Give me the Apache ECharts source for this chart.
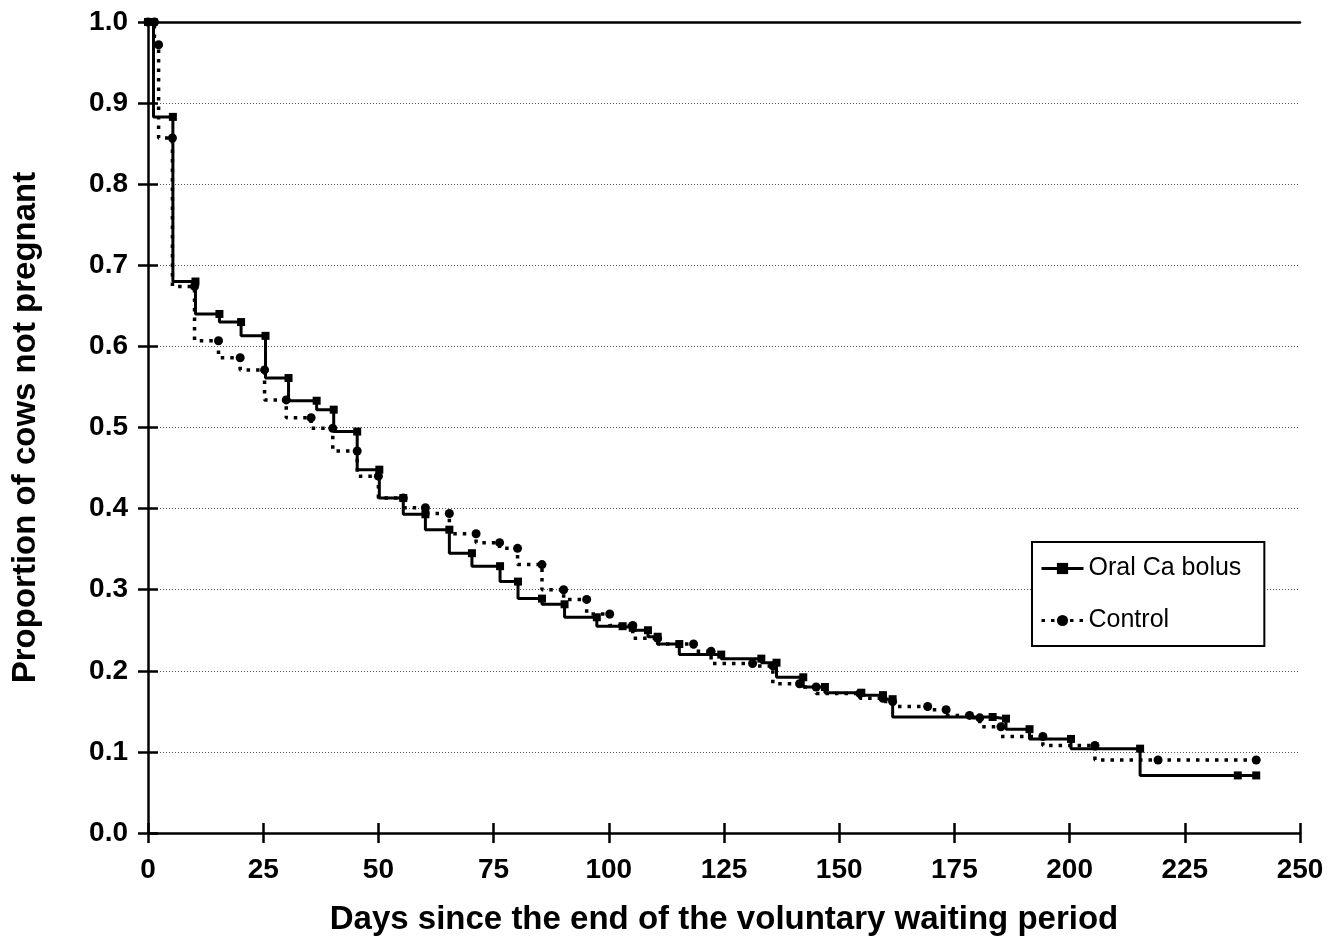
<!DOCTYPE html>
<html>
<head>
<meta charset="utf-8">
<script src="https://cdn.jsdelivr.net/npm/echarts@6/dist/echarts.min.js"></script>
<style>
  html, body { margin: 0; padding: 0; background: #fff; }
  #chart { width: 1344px; height: 943px; }
</style>
</head>
<body>
<div id="chart"></div>
<script>
// day of each event and proportion left after it (first entry = start)
var bolusDays = [0, 1.2, 5.4, 10.3, 15.5, 20.2, 25.5, 30.5, 36.6, 40.3, 45.4, 50.2, 55.4, 60.2, 65.4, 70.3, 76.4, 80.3, 85.5, 90.4,
  97.4, 103, 105.2, 108.5, 110.6, 115.3, 124.4, 133.1, 136.4, 142.2, 146.9, 154.8, 159.5, 161.6, 183.3, 186.2, 191.3, 200.3, 215.3, 236.5, 240.5];
var bolusProp = [1.0, 0.883, 0.680, 0.640, 0.630, 0.613, 0.561, 0.533, 0.522, 0.495, 0.448, 0.413, 0.393, 0.374, 0.345, 0.329, 0.310, 0.289, 0.282, 0.266,
  0.255, 0.253, 0.250, 0.242, 0.233, 0.220, 0.215, 0.210, 0.192, 0.180, 0.173, 0.170, 0.165, 0.143, 0.141, 0.128, 0.116, 0.104, 0.071, 0.071, 0.071];

var controlDays = [0, 1.4, 2.3, 5.3, 10.1, 15.3, 20, 25.3, 30, 35.4, 40.1, 45.4, 50, 55.4, 60.2, 65.4, 71.2, 76.3, 80.2, 85.5,
  90.2, 95.2, 100.2, 105.2, 110.6, 118.4, 122.2, 131.2, 135.6, 141.4, 145, 154.5, 159.5, 161.6, 169.2, 173.2, 178.3, 180.5, 185.1, 194.2,
  205.5, 219.2, 240.5];
var controlProp = [1.0, 0.972, 0.857, 0.674, 0.607, 0.586, 0.571, 0.534, 0.512, 0.499, 0.471, 0.440, 0.413, 0.401, 0.394, 0.369, 0.358, 0.351, 0.331, 0.300,
  0.288, 0.270, 0.256, 0.240, 0.233, 0.224, 0.209, 0.206, 0.184, 0.180, 0.172, 0.166, 0.162, 0.156, 0.152, 0.145, 0.142, 0.131, 0.119, 0.108,
  0.090, 0.090, 0.090];

var seriesNames = ['Oral Ca bolus', 'Control'];

var FONT = '"Liberation Sans", Arial, sans-serif';

// step curve: marker on top of each drop, plain corner at the bottom
function kmPoints(days, prop) {
  var pts = [{ value: [days[0], prop[0]] }];
  for (var i = 1; i < days.length; i++) {
    pts.push({ value: [days[i], prop[i - 1]] });
    if (prop[i] !== prop[i - 1]) {
      pts.push({ value: [days[i], prop[i]], symbol: 'none' });
    }
  }
  return pts;
}

var chart = echarts.init(document.getElementById('chart'));

var xBase = { type: 'value', min: 0, max: 250, interval: 25, gridIndex: 0 };
var yBase = { type: 'value', min: 0, max: 1, interval: 0.1, gridIndex: 0 };

chart.setOption({
  animation: false,
  backgroundColor: '#fff',
  grid: { left: 148, right: 44, top: 22, bottom: 110 },
  legend: {
    orient: 'vertical',
    left: 1032,
    top: 542,
    data: seriesNames,
    backgroundColor: '#fff',
    borderColor: '#000',
    borderWidth: 2,
    borderRadius: 0,
    padding: [14, 23, 13, 8],
    itemGap: 27,
    itemWidth: 42,
    itemHeight: 14,
    lineStyle: { width: 3 },
    textStyle: { fontFamily: FONT, fontSize: 25, color: '#000', lineHeight: 25 }
  },
  xAxis: [
    Object.assign({}, xBase, {
      position: 'bottom',
      name: 'Days since the end of the voluntary waiting period',
      nameLocation: 'middle',
      nameGap: 70,
      nameTextStyle: { fontFamily: FONT, fontSize: 33, fontWeight: 'bold', color: '#000' },
      axisLine: { show: true, lineStyle: { color: '#000', width: 2.5 } },
      axisTick: { show: true, inside: false, length: 10, lineStyle: { color: '#000', width: 2.5 } },
      axisLabel: { margin: 23, fontFamily: FONT, fontSize: 28, fontWeight: 'bold', color: '#000' },
      splitLine: { show: false }
    }),
    Object.assign({}, xBase, {
      position: 'bottom',
      axisLine: { show: false },
      axisTick: { show: true, inside: true, length: 10, lineStyle: { color: '#000', width: 2.5 } },
      axisLabel: { show: false },
      splitLine: { show: false }
    }),
    Object.assign({}, xBase, {
      position: 'top',
      axisLine: { show: true, lineStyle: { color: '#000', width: 2.5 } },
      axisTick: { show: false },
      axisLabel: { show: false },
      splitLine: { show: false }
    })
  ],
  yAxis: [
    Object.assign({}, yBase, {
      position: 'left',
      name: 'Proportion of cows not pregnant',
      nameLocation: 'middle',
      nameGap: 106,
      nameTextStyle: { fontFamily: FONT, fontSize: 33, fontWeight: 'bold', color: '#000' },
      axisLine: { show: true, lineStyle: { color: '#000', width: 2.5 } },
      axisTick: { show: true, inside: false, length: 10, lineStyle: { color: '#000', width: 2.5 } },
      axisLabel: {
        margin: 20, fontFamily: FONT, fontSize: 28, fontWeight: 'bold', color: '#000',
        formatter: function (v) { return v.toFixed(1); }
      },
      splitLine: { show: true, lineStyle: { color: '#555', width: 1, type: [1, 2] } }
    }),
    Object.assign({}, yBase, {
      position: 'left',
      axisLine: { show: false },
      axisTick: { show: true, inside: true, length: 10, lineStyle: { color: '#000', width: 2.5 } },
      axisLabel: { show: false },
      splitLine: { show: false }
    })
  ],
  series: [
    {
      name: seriesNames[0],
      type: 'line',
      xAxisIndex: 0,
      yAxisIndex: 0,
      data: kmPoints(bolusDays, bolusProp),
      symbol: 'rect',
      symbolSize: 8,
      showSymbol: true,
      itemStyle: { color: '#000' },
      lineStyle: { color: '#000', width: 3, type: 'solid' },
      z: 3
    },
    {
      name: seriesNames[1],
      type: 'line',
      xAxisIndex: 0,
      yAxisIndex: 0,
      data: kmPoints(controlDays, controlProp),
      symbol: 'circle',
      symbolSize: 9,
      showSymbol: true,
      itemStyle: { color: '#000' },
      lineStyle: { color: '#000', width: 3.5, type: [3.5, 6] },
      z: 2
    }
  ]
});
</script>
</body>
</html>
